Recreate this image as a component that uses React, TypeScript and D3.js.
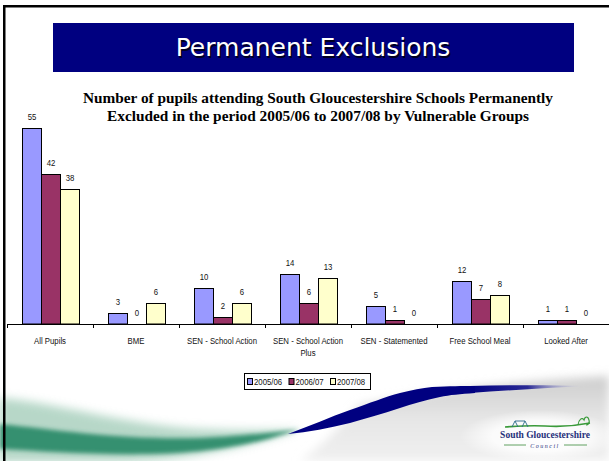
import React from "react";
import * as d3 from "d3";

const categories = [
  "All Pupils",
  "BME",
  "SEN - School Action",
  "SEN - School Action Plus",
  "SEN - Statemented",
  "Free School Meal",
  "Looked After",
];
const seriesNames = ["2005/06", "2006/07", "2007/08"];
const values0506 = [55, 3, 10, 14, 5, 12, 1];
const values0607 = [42, 0, 2, 6, 1, 7, 1];
const values0708 = [38, 6, 6, 13, 0, 8, 0];
const seriesColors = ["#9999FF", "#993366", "#FFFFCC"];

const W = 609;
const H = 461;
const smallFont = "'Liberation Sans', Arial, sans-serif";
const SQX = 0.82;

function wrap(label: string, maxChars: number): string[] {
  const words = label.split(" ");
  const lines: string[] = [];
  let cur = "";
  for (const w of words) {
    const next = cur ? cur + " " + w : w;
    if (next.length > maxChars && cur) {
      lines.push(cur);
      cur = w;
    } else cur = next;
  }
  if (cur) lines.push(cur);
  return lines;
}

export default function App() {
  const seriesValues = [values0506, values0607, values0708];
  const x = d3.scaleBand<string>().domain(categories).range([7, 609]).padding(0);
  const bw = x.bandwidth();
  const inner = d3
    .scaleBand<string>()
    .domain(seriesNames)
    .range([bw * 0.1744, bw * 0.8372])
    .padding(0);
  const y = d3.scaleLinear().domain([0, 60]).range([324, 324 - 60 * 3.5636]);
  const baseY = y(0);
  const ticks = [...categories.map((c) => x(c) as number), 609];

  return (
    <svg
      width={W}
      height={H}
      style={{ position: "absolute", left: 0, top: 0, background: "#fff" }}
    >
      <defs>
        <filter id="blur2" x="-10%" y="-50%" width="120%" height="200%">
          <feGaussianBlur stdDeviation="2.2" />
        </filter>
        <filter id="blur4" x="-10%" y="-50%" width="120%" height="200%">
          <feGaussianBlur stdDeviation="5" />
        </filter>
        <linearGradient id="navyTail" x1="0" x2="1" y1="0" y2="0">
          <stop offset="0" stopColor="#000080" />
          <stop offset="0.5" stopColor="#2a2a95" />
          <stop offset="1" stopColor="#c8c8e6" stopOpacity="0" />
        </linearGradient>
        <linearGradient id="greyFade" x1="0" x2="0" y1="0" y2="1">
          <stop offset="0" stopColor="#cccccc" />
          <stop offset="0.5" stopColor="#e6e6e6" />
          <stop offset="1" stopColor="#f0f0f0" />
        </linearGradient>
        <radialGradient id="logoGlow" cx="0.5" cy="0.5" r="0.5">
          <stop offset="0" stopColor="#ffffff" />
          <stop offset="0.6" stopColor="#ffffff" stopOpacity="0.8" />
          <stop offset="1" stopColor="#ffffff" stopOpacity="0" />
        </radialGradient>
      </defs>
      <rect x={0} y={0} width={W} height={H} fill="#ffffff" />

      {/* decorative swooshes */}
      <g>
        <path
          d="M360,405 C420,392 500,382 609,376 L609,461 L300,461 C330,440 345,420 360,405 Z"
          fill="url(#greyFade)"
          filter="url(#blur4)"
        />
        <ellipse cx={540} cy={436} rx={80} ry={26} fill="url(#logoGlow)" />
        <path
          d="M0,398 C60,403 120,424 200,429 C250,431 280,430 300,429 C260,442 200,460 120,462 L0,462 Z"
          fill="#9fcab6"
          opacity={0.75}
          filter="url(#blur4)"
        />
        <path
          d="M0,424 C60,430 120,440 200,438 C245,436 275,432 300,429 C265,441 220,453 150,454 C90,455 40,451 0,449 Z"
          fill="#35906f"
          filter="url(#blur2)"
        />
        <path
          d="M470,386 C510,385 550,385 585,386 C550,388 510,390 470,393 Z"
          fill="url(#navyTail)"
        />
        <path
          d="M288,434 C310,426 330,417 350,410 C370,403 385,397 400,393 C412,390 422,388 432,387 C450,386 462,386 475,386 L475,393 C460,394 450,395 440,397 C425,400 412,404 400,408 C382,414 366,418 350,423 C330,428 308,432 288,434 Z"
          fill="#000080"
        />
      </g>

      {/* logo */}
      <g>
        <path
          d="M505,427 C520,426 530,425 545,426 C560,427 575,426 590,423"
          stroke="#3a9a3a"
          strokeWidth={1.6}
          fill="none"
        />
        <path
          d="M512,427 L515,421 L518,427 M522,427 L525,421 L528,427 M515,421 L525,421"
          stroke="#2a6a8a"
          strokeWidth={0.9}
          fill="none"
        />
        <path
          d="M578,425 C579,419 582,417 584,420 C585,416 588,416 589,420 C590,423 588,425 586,425"
          stroke="#3a9a3a"
          strokeWidth={1.2}
          fill="none"
        />
        <text
          x={545}
          y={438}
          textAnchor="middle"
          fontFamily="'Liberation Serif', 'Times New Roman', serif"
          fontWeight="bold"
          fontSize={9.5}
          fill="#26307a"
        >
          South Gloucestershire
        </text>
        <line x1={504} x2={526} y1={445} y2={445} stroke="#3a8a3a" strokeWidth={0.8} />
        <line x1={564} x2={587} y1={445} y2={445} stroke="#3a8a3a" strokeWidth={0.8} />
        <text
          x={545}
          y={447.5}
          textAnchor="middle"
          fontFamily="'Liberation Serif', serif"
          fontStyle="italic"
          fontSize={6}
          letterSpacing={1.5}
          fill="#26307a"
        >
          Council
        </text>
      </g>

      {/* slide border */}
      <rect x={3} y={5} width={2.5} height={H - 5} fill="#000" />
      <rect x={3} y={5} width={W - 3} height={2.5} fill="#000" />

      {/* banner */}
      <rect x={53} y={23} width={521} height={49} fill="#000080" />
      <text
        x={314.5}
        y={57.5}
        textAnchor="middle"
        fontFamily="'DejaVu Sans', Verdana, sans-serif"
        fontSize={25}
        fill="#000020"
      >
        Permanent Exclusions
      </text>
      <text
        x={313}
        y={56}
        textAnchor="middle"
        fontFamily="'DejaVu Sans', Verdana, sans-serif"
        fontSize={25}
        fill="#ffffff"
      >
        Permanent Exclusions
      </text>

      {/* chart title */}
      <g
        fontFamily="'Liberation Serif', 'Times New Roman', serif"
        fontWeight="bold"
        fontSize={14.5}
        textAnchor="middle"
        fill="#000"
      >
        <text x={318} y={103} textLength={470} lengthAdjust="spacingAndGlyphs">
          Number of pupils attending South Gloucestershire Schools Permanently
        </text>
        <text x={318} y={121} textLength={422} lengthAdjust="spacingAndGlyphs">
          Excluded in the period 2005/06 to 2007/08 by Vulnerable Groups
        </text>
      </g>

      {/* bars */}
      {categories.map((c, ci) => (
        <g key={c} transform={`translate(${x(c)},0)`}>
          {seriesNames.map((s, si) => {
            const v = seriesValues[si][ci];
            const bx = Math.round(inner(s) as number) + 0.5;
            const bwid = Math.round(inner.bandwidth());
            const top = Math.round(y(v)) + 0.5;
            return (
              <g key={s}>
                {v > 0 && (
                  <rect
                    x={bx}
                    y={top}
                    width={bwid}
                    height={baseY - top}
                    fill={seriesColors[si]}
                    stroke="#000"
                    strokeWidth={1}
                  />
                )}
                <text
                  transform={`translate(${bx + bwid / 2},${y(v) - 8}) scale(${SQX},1)`}
                  textAnchor="middle"
                  fontFamily={smallFont}
                  fontSize={9.5}
                  fill="#111"
                >
                  {v}
                </text>
              </g>
            );
          })}
        </g>
      ))}

      {/* axis */}
      <line x1={7} x2={609} y1={baseY + 0.5} y2={baseY + 0.5} stroke="#000" strokeWidth={1} />
      {ticks.map((t, i) => (
        <line
          key={i}
          x1={Math.round(t) + 0.5}
          x2={Math.round(t) + 0.5}
          y1={baseY}
          y2={baseY + 4}
          stroke="#000"
          strokeWidth={1}
        />
      ))}
      {categories.map((c) => {
        const lines = wrap(c, 19);
        return (
          <text
            key={c}
            transform={`translate(${(x(c) as number) + bw / 2},343.5) scale(${SQX},1)`}
            textAnchor="middle"
            fontFamily={smallFont}
            fontSize={9.5}
            fill="#111"
          >
            {lines.map((l, i) => (
              <tspan key={i} x={0} dy={i === 0 ? 0 : 13}>
                {l}
              </tspan>
            ))}
          </text>
        );
      })}

      {/* legend */}
      <g>
        <rect x={244.5} y={373.5} width={126} height={16} fill="#fff" stroke="#000" strokeWidth={1} />
        {seriesNames.map((s, i) => (
          <g key={s} transform={`translate(${247 + i * 41.5},0)`}>
            <rect x={0.5} y={378.5} width={5} height={6} fill={seriesColors[i]} stroke="#000" strokeWidth={1} />
            <text
              transform={`translate(7,385) scale(${SQX},1)`}
              fontFamily={smallFont}
              fontSize={9.5}
              fill="#111"
            >
              {s}
            </text>
          </g>
        ))}
      </g>
    </svg>
  );
}
